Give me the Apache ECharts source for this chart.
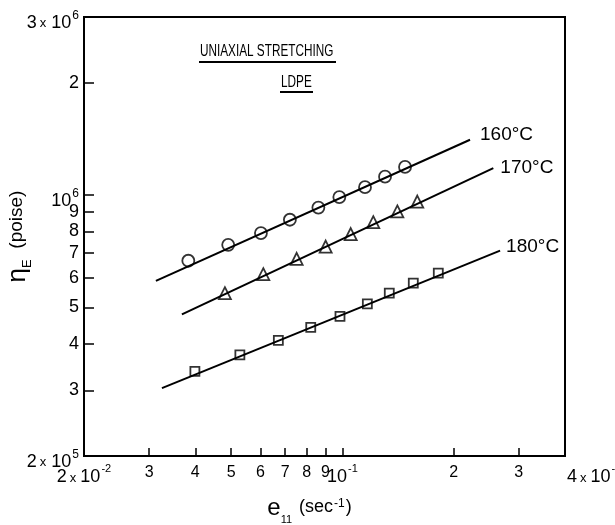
<!DOCTYPE html>
<html>
<head>
<meta charset="utf-8">
<script src="https://cdn.jsdelivr.net/npm/echarts@6/dist/echarts.min.js"></script>
<style>
  html, body { margin: 0; padding: 0; background: #fff; }
  #chart { width: 615px; height: 525px; }
</style>
</head>
<body>
<div id="chart"></div>
<script>
// Elongational viscosity of LDPE in uniaxial stretching, three temperatures.
// Strain rate in sec^-1, viscosity in poise.
const rate160 = [0.0383, 0.0491, 0.0602, 0.0721, 0.0861, 0.0981, 0.1151, 0.1304, 0.1477];
const visc160 = [6.67e5, 7.36e5, 7.91e5, 8.59e5, 9.26e5, 9.88e5, 1.05e6, 1.12e6, 1.19e6];

const rate170 = [0.0481, 0.0611, 0.0752, 0.0901, 0.1053, 0.1212, 0.1408, 0.1594];
const visc170 = [5.46e5, 6.14e5, 6.75e5, 7.28e5, 7.86e5, 8.46e5, 9.04e5, 9.61e5];

const rate180 = [0.0399, 0.0528, 0.0671, 0.0821, 0.0985, 0.1168, 0.1339, 0.1555, 0.1817];
const visc180 = [3.37e5, 3.73e5, 4.08e5, 4.42e5, 4.73e5, 5.11e5, 5.46e5, 5.81e5, 6.18e5];

// Fitted straight lines (end points) for each temperature
const fitRate160 = [0.0313, 0.2214];
const fitVisc160 = [5.89e5, 1.407e6];
const fitRate170 = [0.0368, 0.256];
const fitVisc170 = [4.79e5, 1.181e6];
const fitRate180 = [0.0325, 0.267];
const fitVisc180 = [3.04e5, 7.10e5];

const seriesNames = ['160°C', '170°C', '180°C'];

// Tick positions and their labels ('^' marks an exponent)
const xTickValues = [0.02, 0.03, 0.04, 0.05, 0.06, 0.07, 0.08, 0.09, 0.1, 0.2, 0.3, 0.4];
const xTickLabels = ['2x10^-2', '3', '4', '5', '6', '7', '8', '9', '10^-1', '2', '3', '4x10^-1'];
const yTickValues = [2e5, 3e5, 4e5, 5e5, 6e5, 7e5, 8e5, 9e5, 1e6, 2e6, 3e6];
const yTickLabels = ['2x10^5', '3', '4', '5', '6', '7', '8', '9', '10^6', '2', '3x10^6'];

const FONT = 'Liberation Sans';

function pairs(xs, ys) {
  return xs.map((x, i) => [x, ys[i]]);
}

function findLabel(values, labels, v) {
  for (let i = 0; i < values.length; i++) {
    if (Math.abs(values[i] - v) / values[i] < 1e-6) return labels[i];
  }
  return '';
}

// Turn 'm x10^e' into rich text: mantissa, small 'x', '10', raised exponent
function richPower(text, base, cross, lead, sup) {
  const parts = text.split('^');
  const pieces = parts[0].split('x');
  let out = '';
  if (pieces.length === 2) {
    out += '{' + lead + '|' + pieces[0] + '}{' + cross + '|x}{' + base + '|' + pieces[1] + '}';
  } else {
    out += '{' + lead + '|' + pieces[0] + '}';
  }
  return out + '{' + sup + '|' + parts[1] + '}';
}

function xLabel(v) {
  const text = findLabel(xTickValues, xTickLabels, v);
  if (text.indexOf('^') < 0) return '{p|' + text + '}';
  return richPower(text, 'xn', 'xx', v > 0.3 ? 'xr' : 'xn', 'xs');
}

function yLabel(v) {
  const text = findLabel(yTickValues, yTickLabels, v);
  if (text.indexOf('^') < 0) return '{q|' + text + '}';
  return richPower(text, 'yn', 'yx', 'yn', 'ys');
}

const labelRich = {
  p:  { fontFamily: FONT, fontSize: 16, lineHeight: 16, color: '#000' },
  xn: { fontFamily: FONT, fontSize: 18, lineHeight: 17, color: '#000', padding: [8, 0, 0, 0] },
  xr: { fontFamily: FONT, fontSize: 18, lineHeight: 17, color: '#000', padding: [8, 0, 0, 2] },
  xx: { fontFamily: FONT, fontSize: 13, lineHeight: 13, color: '#000', padding: [9, 4, 0, 3] },
  xs: { fontFamily: FONT, fontSize: 11, lineHeight: 11, color: '#000', padding: [0, 0, 10, 1] },
  q:  { fontFamily: FONT, fontSize: 18, lineHeight: 18, color: '#000' },
  yn: { fontFamily: FONT, fontSize: 18, lineHeight: 17, color: '#000', padding: [12, 0, 0, 0] },
  yx: { fontFamily: FONT, fontSize: 13, lineHeight: 13, color: '#000', padding: [12, 5, 0, 3] },
  ys: { fontFamily: FONT, fontSize: 12, lineHeight: 12, color: '#000', padding: [0, 0, 2, 1] }
};

const chart = echarts.init(document.getElementById('chart'), null, { renderer: 'canvas' });

function fitLine(name, xs, ys, distance, offset) {
  return {
    name: name,
    type: 'line',
    data: pairs(xs, ys),
    showSymbol: false,
    silent: true,
    lineStyle: { color: '#000', width: 2 },
    endLabel: {
      show: true,
      formatter: name,
      color: '#000',
      fontFamily: FONT,
      fontSize: 19,
      distance: distance,
      offset: offset
    },
    z: 2
  };
}

function points(data, symbol, size) {
  return {
    type: 'scatter',
    data: data,
    symbol: symbol,
    symbolSize: size,
    itemStyle: { color: 'rgba(0,0,0,0)', borderColor: '#000', borderWidth: 1.8 },
    z: 3
  };
}

chart.setOption({
  animation: false,
  backgroundColor: '#fff',
  grid: {
    left: 84, top: 17, width: 481, height: 439,
    show: true, borderColor: '#000', borderWidth: 2,
    outerBoundsMode: 'none'
  },
  xAxis: {
    type: 'log',
    logBase: 10,
    min: 0.02,
    max: 0.4,
    axisLine: { show: true, lineStyle: { color: '#000', width: 2 } },
    axisTick: { show: true, inside: true, length: 8, customValues: xTickValues, lineStyle: { color: '#000', width: 1.5 } },
    axisLabel: {
      customValues: xTickValues, formatter: xLabel, rich: labelRich, margin: 9, color: '#000',
      showMinLabel: true, showMaxLabel: true, hideOverlap: false, alignMaxLabel: 'left'
    },
    splitLine: { show: false },
    minorTick: { show: false },
    name: '{e|e}{sub|11}{p| (sec}{sup|-1}{p|)}',
    nameLocation: 'middle',
    nameGap: 40,
    nameMoveOverlap: false,
    nameTextStyle: {
      padding: [0, 30, 0, 0],
      rich: {
        e:   { fontFamily: FONT, fontSize: 24, lineHeight: 24, color: '#000' },
        sub: { fontFamily: FONT, fontSize: 11, lineHeight: 11, color: '#000', padding: [24, 2, 0, 0] },
        p:   { fontFamily: FONT, fontSize: 18, lineHeight: 18, color: '#000', padding: [0, 0, 2, 0] },
        sup: { fontFamily: FONT, fontSize: 12, lineHeight: 12, color: '#000', padding: [0, 1, 9, 1] }
      }
    }
  },
  yAxis: {
    type: 'log',
    logBase: 10,
    min: 2e5,
    max: 3e6,
    axisLine: { show: true, lineStyle: { color: '#000', width: 2 } },
    axisTick: { show: true, inside: true, length: 10, customValues: yTickValues, lineStyle: { color: '#000', width: 1.5 } },
    axisLabel: {
      customValues: yTickValues, formatter: yLabel, rich: labelRich, margin: 5, color: '#000',
      showMinLabel: true, showMaxLabel: true, hideOverlap: false
    },
    splitLine: { show: false },
    minorTick: { show: false },
    name: '{eta|η}{sub|E}{p|  (poise)}',
    nameLocation: 'middle',
    nameRotate: 90,
    nameGap: 54,
    nameMoveOverlap: false,
    nameTextStyle: {
      rich: {
        eta: { fontFamily: FONT, fontSize: 26, lineHeight: 24, color: '#000' },
        sub: { fontFamily: FONT, fontSize: 13, lineHeight: 13, color: '#000', padding: [18, 0, 0, 0] },
        p:   { fontFamily: FONT, fontSize: 19, lineHeight: 19, color: '#000', padding: [0, 0, 3, 0] }
      }
    }
  },
  graphic: [
    { type: 'text', x: 200, y: 44, scaleX: 0.735, style: { text: 'UNIAXIAL STRETCHING', font: '16px "Liberation Sans"', fill: '#000' } },
    { type: 'line', shape: { x1: 199, y1: 62, x2: 336, y2: 62 }, style: { stroke: '#000', lineWidth: 2 } },
    { type: 'text', x: 281, y: 75, scaleX: 0.735, style: { text: 'LDPE', font: '16px "Liberation Sans"', fill: '#000' } },
    { type: 'line', shape: { x1: 280, y1: 92, x2: 313, y2: 92 }, style: { stroke: '#000', lineWidth: 2 } }
  ],
  series: [
    fitLine(seriesNames[0], fitRate160, fitVisc160, 10, [0, -5]),
    fitLine(seriesNames[1], fitRate170, fitVisc170, 7, [0, 0]),
    fitLine(seriesNames[2], fitRate180, fitVisc180, 6, [0, -4]),
    points(pairs(rate160, visc160), 'circle', 12),
    points(pairs(rate170, visc170), 'triangle', 12),
    points(pairs(rate180, visc180), 'rect', 9)
  ]
});
</script>
</body>
</html>
